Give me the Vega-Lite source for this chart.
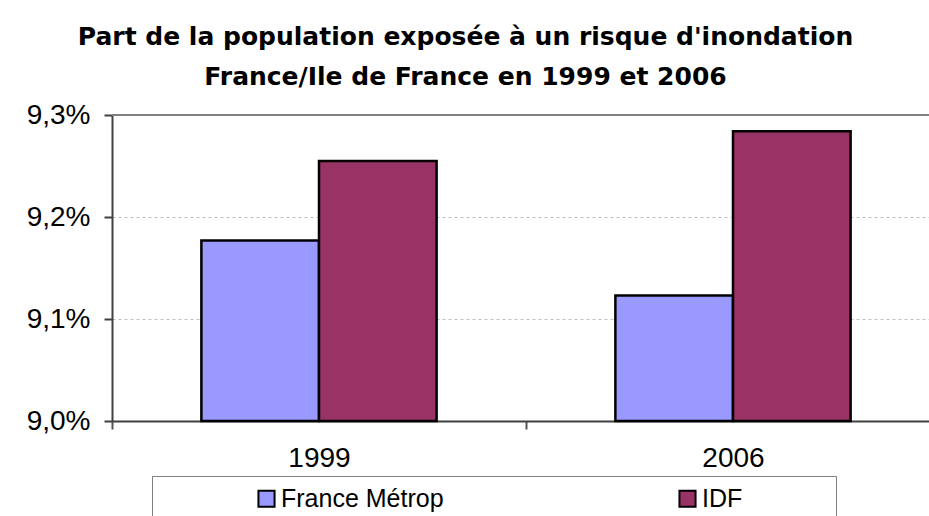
{
  "$schema": "https://vega.github.io/schema/vega-lite/v6.json",
  "width": 817,
  "height": 306,
  "autosize": {"type": "none"},
  "padding": {"left": 112, "top": 115, "right": 0, "bottom": 95},
  "background": "white",
  "title": {
    "text": ["Part de la population exposée à un risque d'inondation", "France/Ile de France en 1999 et 2006"],
    "font": "DejaVu Sans",
    "fontSize": 25,
    "fontWeight": "bold",
    "color": "#000000",
    "lineHeight": 40,
    "anchor": "middle",
    "frame": "group",
    "dx": -55,
    "offset": 11
  },
  "data": {
    "values": [
      {"annee": "1999", "zone": "France Métrop", "part": 0.09177},
      {"annee": "1999", "zone": "IDF", "part": 0.09255},
      {"annee": "2006", "zone": "France Métrop", "part": 0.09123},
      {"annee": "2006", "zone": "IDF", "part": 0.09284}
    ]
  },
  "layer": [
    {
      "mark": {"type": "bar", "stroke": "#000000", "strokeWidth": 2.5},
      "encoding": {
        "x": {
          "field": "annee",
          "type": "nominal",
          "scale": {"range": [0, 828], "paddingInner": 0, "paddingOuter": 0},
          "axis": {
            "title": null,
            "labelAngle": 0,
            "labelFont": "Liberation Sans",
            "labelFontSize": 28,
            "labelColor": "#000000",
            "labelPadding": 15,
            "tickBand": "extent",
            "tickSize": 8,
            "tickColor": "#555555",
            "tickWidth": 2,
            "domainColor": "#404040",
            "domainWidth": 2,
            "grid": false
          }
        },
        "xOffset": {
          "field": "zone",
          "type": "nominal",
          "scale": {"paddingInner": 0, "paddingOuter": 0.76}
        },
        "y": {
          "field": "part",
          "type": "quantitative",
          "scale": {"domain": [0.09, 0.093], "zero": false, "nice": false},
          "axis": {
            "title": null,
            "values": [0.09, 0.091, 0.092, 0.093],
            "format": ".1%",
            "labelFont": "Liberation Sans",
            "labelFontSize": 28,
            "labelColor": "#000000",
            "labelPadding": 14,
            "tickSize": 8,
            "tickColor": "#404040",
            "tickWidth": 2,
            "domainColor": "#404040",
            "domainWidth": 2,
            "grid": true,
            "gridColor": "#BFBFBF",
            "gridDash": [3, 3],
            "gridWidth": 1
          }
        },
        "y2": {"datum": 0.09},
        "color": {
          "field": "zone",
          "type": "nominal",
          "scale": {"domain": ["France Métrop", "IDF"], "range": ["#9999FF", "#993366"]},
          "legend": {
            "title": "\u00a0",
            "titleOrient": "right",
            "titlePadding": 84,
            "titleFontSize": 25,
            "orient": "none",
            "legendX": 40,
            "legendY": 361,
            "direction": "horizontal",
            "columns": 2,
            "gridAlign": "all",
            "columnPadding": 139,
            "padding": 10,
            "symbolOffset": 92,
            "strokeColor": "#808080",
            "fillColor": "#FFFFFF",
            "symbolType": "square",
            "symbolSize": 260,
            "symbolStrokeColor": "#000000",
            "symbolStrokeWidth": 2,
            "symbolOpacity": 1,
            "labelFont": "Liberation Sans",
            "labelFontSize": 25,
            "labelLimit": 500,
            "labelColor": "#000000",
            "labelOffset": 2
          }
        }
      }
    },
    {
      "mark": {"type": "rule", "color": "#808080", "strokeWidth": 2},
      "encoding": {
        "y": {"datum": 0.093}
      }
    }
  ],
  "config": {
    "locale": {
      "number": {"decimal": ",", "thousands": " ", "grouping": [3], "currency": ["", " €"]}
    },
    "view": {"stroke": null}
  }
}
